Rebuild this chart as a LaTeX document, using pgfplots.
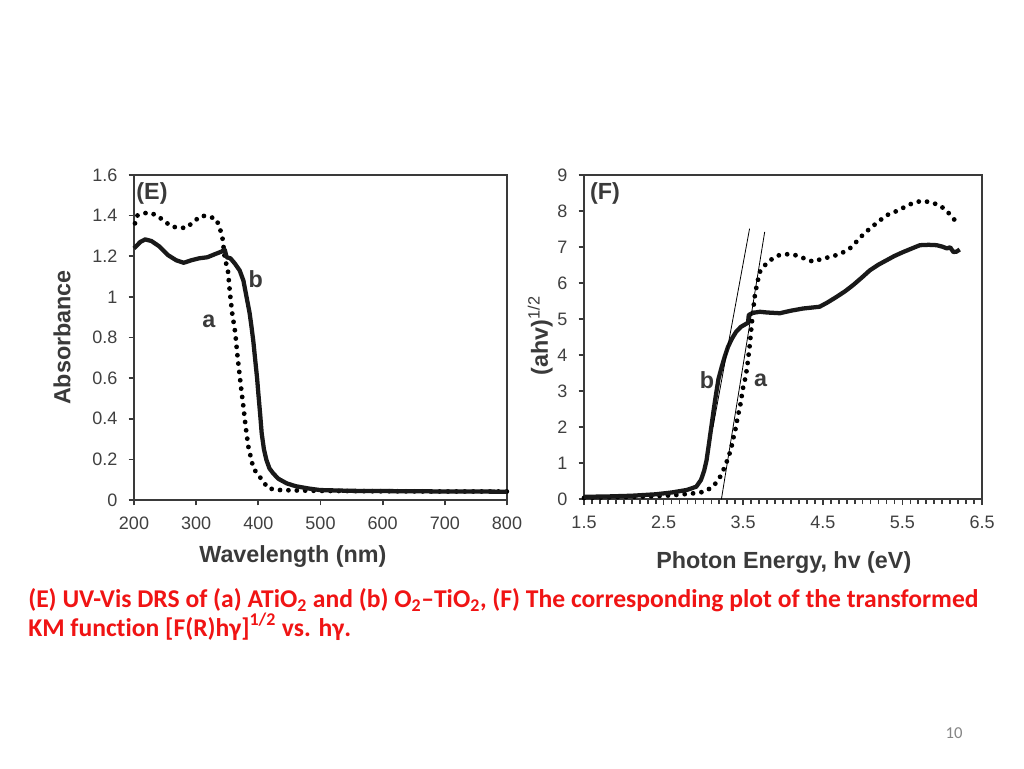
\documentclass[border=0pt]{standalone}
\usepackage{fontspec}
\setmainfont{Liberation Sans}
\newfontfamily\carlito[Ligatures=NoCommon]{Carlito}
\usepackage{pgfplots}
\pgfplotsset{compat=1.18}
\definecolor{axgray}{HTML}{3A3A3A}
\definecolor{tickgray}{HTML}{404040}
\definecolor{capred}{HTML}{F01414}
\definecolor{pagegray}{HTML}{858585}
\pgfplotsset{
  myax/.style={scale only axis, clip=false,
    axis line style={axgray, line width=1.6pt},
    tick style={axgray, line width=1.3pt},
    tick align=outside, tick pos=left,
    major tick length=4pt, minor tick length=3.6pt,
    ticklabel style={font=\fontsize{13.5}{15}\selectfont, text=tickgray},
    xticklabel shift=5pt, yticklabel shift=5pt,
    /pgf/number format/assume math mode=true,
    label style={font=\bfseries\fontsize{17.5}{20}\selectfont, text=axgray},
  },
  dotsty/.style={draw=black, line width=3.6pt, line cap=round, dash pattern=on 0pt off 6.3pt, mark=none},
  solsty/.style={draw=black!90, line width=3.2pt, line join=round, mark=none},
}
\begin{document}
\begin{tikzpicture}[x=0.75pt,y=0.75pt]
\fill[white] (0,0) rectangle (1024,768);
\path[use as bounding box] (0,0) rectangle (1024,768);

\begin{axis}[myax, at={(100.5pt,201pt)}, anchor=south west,
  width=279.75pt, height=243.75pt,
  xmin=200, xmax=800, ymin=0, ymax=1.6,
  xtick={200,300,400,500,600,700,800},
  ytick={0,0.2,0.4,0.6,0.8,1,1.2,1.4,1.6},
  xlabel={Wavelength (nm)}, ylabel={Absorbance},
  x label style={at={(axis description cs:0.426,-0.175)}, anchor=center},
  y label style={at={(axis description cs:-0.193,0.5)}, anchor=center},
]
\addplot[dotsty] coordinates {
(201.6,1.362) (205,1.40) (214,1.41) (223,1.415) (236,1.403) (250,1.37) (260.6,1.346)
(274,1.34) (285,1.34) (295.4,1.37) (309,1.40) (320,1.395) (332,1.385) (338,1.34)
(342.7,1.283) (346,1.19) (351,1.132) (354.4,1.017) (358,0.919) (363,0.821) (366,0.722)
(372,0.558) (376,0.459) (379.6,0.361) (384,0.262) (392,0.156) (404,0.107) (416,0.057)
(435,0.049) (460,0.047) (500,0.045) (600,0.043) (700,0.042) (800,0.042)};
\addplot[solsty] coordinates {
(200,1.239) (210,1.27) (218,1.283) (228,1.275) (240,1.25) (255,1.205) (268,1.18)
(280,1.168) (292,1.18) (305,1.19) (318,1.195) (330,1.21) (340,1.222) (346,1.232)
(349,1.195) (355,1.19) (362,1.165) (370,1.13) (376,1.08) (381,1.00) (386,0.92)
(389,0.853) (392,0.78) (395,0.689) (398,0.60) (400,0.525) (403,0.42) (405.4,0.328)
(409,0.25) (413,0.197) (418,0.155) (424,0.131) (432,0.105) (445.6,0.082) (460,0.068)
(480,0.057) (499,0.049) (550,0.045) (600,0.044) (700,0.042) (800,0.041)};
\node[font=\bfseries\fontsize{17.5}{20}\selectfont, text=axgray] at (axis cs:229,1.511) {(E)};
\node[font=\bfseries\fontsize{17.5}{20}\selectfont, text=axgray] at (axis cs:320.6,0.881) {a};
\node[font=\bfseries\fontsize{17.5}{20}\selectfont, text=axgray] at (axis cs:396,1.088) {b};
\end{axis}

\begin{axis}[myax, at={(438pt,201.5pt)}, anchor=south west,
  width=298.5pt, height=243pt,
  xmin=1.5, xmax=6.5, ymin=0, ymax=9,
  xtick={1.5,2.5,3.5,4.5,5.5,6.5},
  minor x tick num=9,
  ytick={0,1,2,3,4,5,6,7,8,9},
  xlabel={Photon Energy, hv (eV)}, ylabel={(ahv)\textsuperscript{\mdseries 1/2}},
  x label style={at={(axis description cs:0.502,-0.194)}, anchor=center},
  y label style={at={(axis description cs:-0.11,0.505)}, anchor=center},
]
\addplot[dotsty] coordinates {
(1.5,0.04) (1.9,0.06) (2.3,0.08) (2.6,0.11) (2.89,0.17) (3.01,0.21) (3.12,0.35)
(3.20,0.58) (3.26,0.86) (3.31,1.14) (3.35,1.42) (3.38,1.74) (3.41,2.02) (3.43,2.29)
(3.46,2.57) (3.48,2.85) (3.50,3.12) (3.53,3.40) (3.55,3.68) (3.58,4.24) (3.60,4.70)
(3.62,5.16) (3.65,5.72) (3.68,6.04) (3.71,6.32) (3.79,6.55) (3.87,6.69) (3.95,6.78)
(4.06,6.81) (4.16,6.78) (4.27,6.69) (4.38,6.60) (4.50,6.69) (4.61,6.74) (4.73,6.83)
(4.84,6.97) (4.92,7.15) (5.00,7.34) (5.09,7.52) (5.19,7.70) (5.30,7.89) (5.40,7.98)
(5.53,8.12) (5.63,8.23) (5.74,8.29) (5.84,8.26) (5.97,8.17) (6.07,7.98) (6.16,7.75)};
\addplot[solsty] coordinates {
(1.5,0.07) (1.8,0.08) (2.1,0.10) (2.4,0.14) (2.6,0.19) (2.79,0.26) (2.91,0.35)
(2.97,0.54) (3.01,0.8) (3.04,1.09) (3.07,1.55) (3.10,2.02) (3.13,2.5) (3.16,2.94)
(3.19,3.35) (3.23,3.68) (3.27,3.98) (3.31,4.24) (3.36,4.47) (3.41,4.65) (3.47,4.79)
(3.54,4.88) (3.56,4.90) (3.57,5.12) (3.62,5.18) (3.71,5.21) (3.80,5.19) (3.96,5.17)
(4.10,5.24) (4.25,5.30) (4.46,5.35) (4.56,5.47) (4.67,5.62) (4.78,5.78) (4.88,5.95)
(4.99,6.16) (5.09,6.36) (5.20,6.52) (5.30,6.64) (5.40,6.76) (5.51,6.87) (5.62,6.97)
(5.72,7.06) (5.83,7.07) (5.93,7.06) (6.00,7.02) (6.06,6.97) (6.10,7.00) (6.14,6.87)
(6.18,6.88) (6.22,6.94)};
\addplot[black, line width=0.6pt, mark=none] coordinates {(3.226,0.0) (3.77,7.43)};
\addplot[black, line width=0.6pt, mark=none] coordinates {(3.12,2.0) (3.58,7.52)};
\node[font=\bfseries\fontsize{17.5}{20}\selectfont, text=axgray] at (axis cs:1.764,8.5) {(F)};
\node[font=\bfseries\fontsize{17.5}{20}\selectfont, text=axgray] at (axis cs:3.045,3.31) {b};
\node[font=\bfseries\fontsize{17.5}{20}\selectfont, text=axgray] at (axis cs:3.72,3.31) {a};
\end{axis}

\node[anchor=base west, text=capred, font=\carlito\bfseries\fontsize{19.2}{23}\selectfont, inner sep=0pt] at (28,161)
  {(E) UV-Vis DRS of (a) ATiO\textsubscript{2} and (b) O\textsubscript{2}–TiO\textsubscript{2}, (F) The corresponding plot of the transformed};
\node[anchor=base west, text=capred, font=\carlito\bfseries\fontsize{19.2}{23}\selectfont, inner sep=0pt] at (28,132)
  {KM function [F(R)hγ]\textsuperscript{1/2} vs. hγ.};
\node[text=pagegray, font=\carlito\fontsize{12.5}{14}\selectfont] at (954,35) {10};
\end{tikzpicture}
\end{document}
